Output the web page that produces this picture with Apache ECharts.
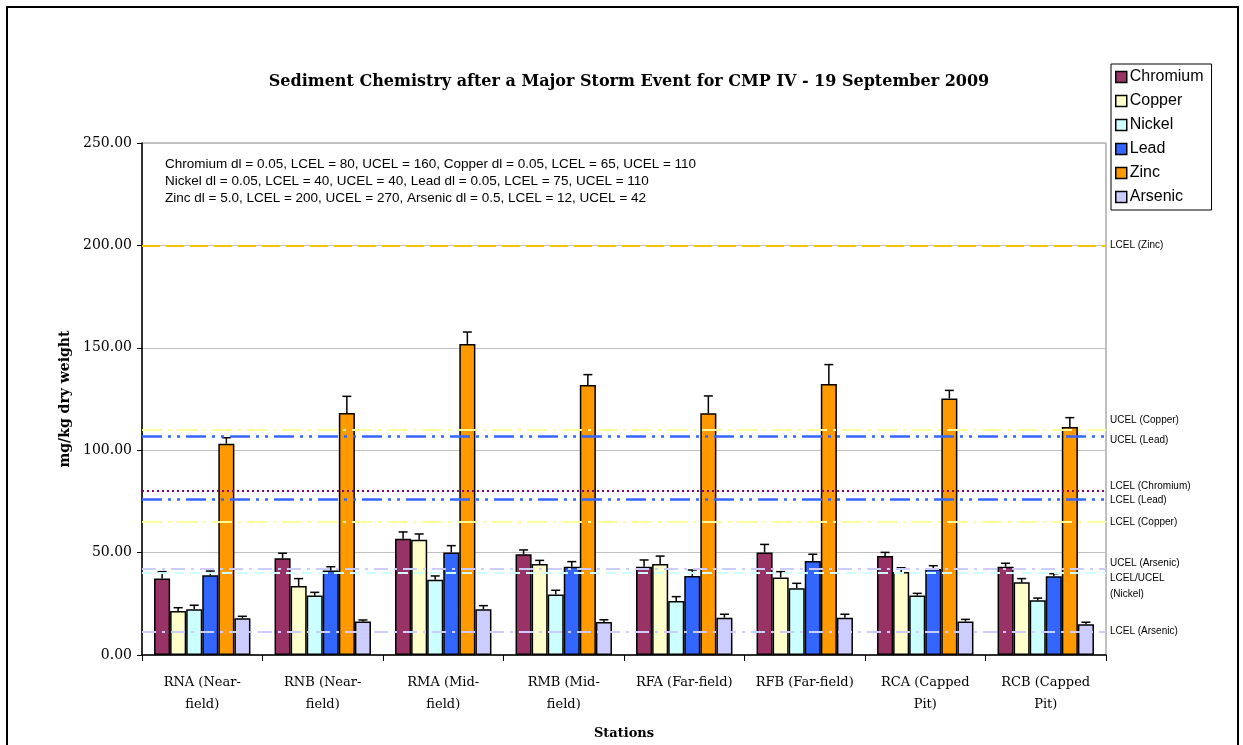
<!DOCTYPE html>
<html>
<head>
<meta charset="utf-8">
<script src="https://cdn.jsdelivr.net/npm/echarts@6/dist/echarts.min.js"></script>
<style>
  html, body { margin: 0; padding: 0; background: #ffffff; }
  #chart { width: 1243px; height: 745px; }
</style>
</head>
<body>
<div id="chart"></div>
<script>
const stations = [
  "RNA (Near-\nfield)", "RNB (Near-\nfield)", "RMA (Mid-\nfield)", "RMB (Mid-\nfield)",
  "RFA (Far-field)", "RFB (Far-field)", "RCA (Capped\nPit)", "RCB (Capped\nPit)"
];
const metals = ["Chromium", "Copper", "Nickel", "Lead", "Zinc", "Arsenic"];

const chromium = [37.4, 47.2, 56.8, 49.2, 43.1, 50.1, 48.3, 43.1];
const copper   = [21.5, 33.7, 56.3, 44.4, 44.4, 37.9, 40.5, 35.5];
const nickel   = [22.3, 29.0, 36.8, 29.6, 26.4, 32.6, 29.0, 26.7];
const lead     = [38.9, 41.2, 50.1, 43.1, 38.6, 45.9, 42.0, 38.4];
const zinc     = [103.2, 118.2, 151.9, 131.8, 118.0, 132.3, 125.3, 111.3];
const arsenic  = [17.9, 16.4, 22.3, 16.1, 18.2, 18.2, 16.4, 15.0];

const chromiumErr = [3.3, 2.5, 3.3, 2.1, 3.3, 3.9, 1.8, 1.7];
const copperErr   = [1.6, 3.6, 2.8, 1.8, 3.9, 2.8, 2.1, 1.8];
const nickelErr   = [2.0, 1.6, 1.8, 2.0, 2.1, 2.4, 1.1, 1.1];
const leadErr     = [2.1, 1.9, 3.3, 2.5, 2.9, 3.3, 1.6, 1.3];
const zincErr     = [2.9, 8.1, 5.8, 5.1, 8.5, 9.5, 3.9, 4.6];
const arsenicErr  = [1.0, 0.7, 1.8, 1.1, 1.7, 1.7, 1.0, 1.0];

const thresholdValues = [200, 110, 107, 80, 76, 65, 42, 40, 11.5];
const thresholdLabels = [
  "LCEL (Zinc)", "UCEL (Copper)", "UCEL (Lead)", "LCEL (Chromium)", "LCEL (Lead)",
  "LCEL (Copper)", "UCEL (Arsenic)", "LCEL/UCEL\n(Nickel)", "LCEL (Arsenic)"
];

const noteLines = [
  "Chromium dl = 0.05, LCEL = 80, UCEL = 160, Copper dl = 0.05, LCEL = 65, UCEL = 110",
  "Nickel dl = 0.05, LCEL = 40, UCEL = 40, Lead dl = 0.05, LCEL = 75, UCEL = 110",
  "Zinc dl = 5.0, LCEL = 200, UCEL = 270, Arsenic dl = 0.5, LCEL = 12, UCEL = 42"
];

const values = [chromium, copper, nickel, lead, zinc, arsenic];
const errors = [chromiumErr, copperErr, nickelErr, leadErr, zincErr, arsenicErr];
const colors = ["#993366", "#ffffcc", "#ccffff", "#3366ff", "#ff9900", "#ccccff"];

const lineStyles = [
  { color: "#ffc000", width: 2, type: [18, 6] },
  { color: "#ffff99", width: 2, type: [20, 6, 3, 6] },
  { color: "#3366ff", width: 2.5, type: [20, 6, 3, 6, 3, 6] },
  { color: "#800080", width: 2, type: [2, 3] },
  { color: "#3366ff", width: 2.5, type: [20, 6, 3, 6, 3, 6] },
  { color: "#ffff99", width: 2, type: [20, 6, 3, 6] },
  { color: "#ccccff", width: 2, type: [14, 6, 3, 6] },
  { color: "#ccffff", width: 2, type: [10, 6] },
  { color: "#ccccff", width: 2, type: [14, 6, 3, 6] }
];
const labelOffsets = [[0, 0], [0, -9], [0, 4], [0, -5], [0, 1], [0, 0], [0, -6], [0, 13], [0, 0]];

const errData = [];
values.forEach((arr, s) => arr.forEach((v, c) => errData.push([c, s, v, errors[s][c]])));

const chart = echarts.init(document.getElementById("chart"));

const barSeries = metals.map((name, s) => ({
  name,
  type: "bar",
  data: values[s],
  barGap: "0%",
  barCategoryGap: "20%",
  itemStyle: { color: colors[s], borderColor: "#000000", borderWidth: 1.5 },
  emphasis: { disabled: true },
  z: 3
}));

chart.setOption({
  animation: false,
  backgroundColor: "#ffffff",
  title: {
    text: "Sediment Chemistry after a Major Storm Event for CMP IV - 19 September 2009",
    left: 624,
    top: 69,
    textAlign: "center",
    textStyle: { fontFamily: "DejaVu Serif", fontWeight: "bold", fontSize: 16, color: "#000000" }
  },
  legend: {
    orient: "vertical",
    left: 1111,
    top: 64,
    width: 102,
    padding: [5, 8, 5, 4],
    itemGap: 8,
    itemWidth: 11,
    itemHeight: 11,
    icon: "rect",
    backgroundColor: "#ffffff",
    borderColor: "#000000",
    borderWidth: 1,
    textStyle: { fontFamily: "Liberation Sans", fontSize: 16, color: "#000000", padding: [0, 0, 0, -2] },
    itemStyle: { borderColor: "#000000", borderWidth: 1.5 },
    data: metals
  },
  grid: {
    left: 142, top: 143, width: 964, height: 512,
    show: true, borderColor: "#808080", borderWidth: 1
  },
  xAxis: {
    type: "category",
    data: stations,
    name: "Stations",
    nameLocation: "middle",
    nameGap: 72,
    nameTextStyle: { fontFamily: "DejaVu Serif", fontWeight: "bold", fontSize: 13, color: "#000000" },
    axisLine: { lineStyle: { color: "#000000", width: 1.5 } },
    axisTick: { show: true, length: 6, lineStyle: { color: "#000000" } },
    axisLabel: {
      interval: 0, margin: 17, color: "#000000",
      fontFamily: "DejaVu Serif", fontSize: 13, lineHeight: 22
    }
  },
  yAxis: {
    type: "value",
    min: 0, max: 250, interval: 50,
    name: "mg/kg dry weight",
    nameLocation: "middle",
    nameGap: 48,
    nameTextStyle: { fontFamily: "DejaVu Serif", fontWeight: "bold", fontSize: 14, color: "#000000" },
    axisLine: { show: true, lineStyle: { color: "#000000", width: 1.5 } },
    axisTick: { show: true, length: 5, lineStyle: { color: "#000000" } },
    axisLabel: {
      color: "#000000", fontFamily: "DejaVu Serif", fontSize: 14, margin: 10,
      formatter: (v) => v.toFixed(2)
    },
    splitLine: { lineStyle: { color: "#c0c0c0", width: 1 } }
  },
  graphic: [
    {
      type: "rect",
      shape: { x: 7, y: 7, width: 1231, height: 760 },
      style: { fill: "none", stroke: "#000000", lineWidth: 2 },
      silent: true
    },
    {
      type: "text",
      left: 165,
      top: 156,
      style: {
        text: noteLines.join("\n"),
        font: "13.5px 'Liberation Sans'",
        lineHeight: 17,
        fill: "#000000"
      },
      silent: true
    }
  ],
  series: [
    ...barSeries,
    {
      name: "errors",
      type: "custom",
      data: errData,
      z: 4,
      silent: true,
      renderItem: (params, api) => {
        const cat = api.value(0);
        const s = api.value(1);
        const v = api.value(2);
        const e = api.value(3);
        const band = api.size([1, 0])[0];
        const bw = (band * 0.8) / 6;
        const x = api.coord([cat, v])[0] + (s - 2.5) * bw;
        const y0 = api.coord([cat, v])[1];
        const y1 = api.coord([cat, v + e])[1];
        const style = { stroke: "#000000", lineWidth: 1.5 };
        return {
          type: "group",
          children: [
            { type: "line", shape: { x1: x, y1: y0, x2: x, y2: y1 }, style },
            { type: "line", shape: { x1: x - 4.5, y1: y1, x2: x + 4.5, y2: y1 }, style }
          ]
        };
      },
      markLine: {
        silent: true,
        symbol: "none",
        z: 5,
        data: thresholdValues.map((v, i) => ({
          yAxis: v,
          lineStyle: lineStyles[i],
          label: {
            show: true,
            position: "end",
            distance: 4,
            offset: labelOffsets[i],
            formatter: thresholdLabels[i],
            color: "#000000",
            fontFamily: "Liberation Sans",
            fontSize: 10,
            lineHeight: 16,
            align: "left"
          }
        }))
      }
    }
  ]
});
</script>
</body>
</html>
